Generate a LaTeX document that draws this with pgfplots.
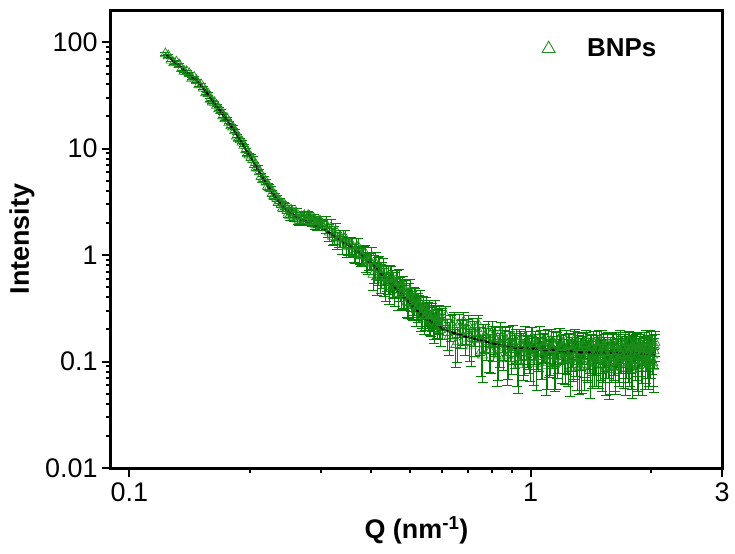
\documentclass[border=0pt]{standalone}
\usepackage{fontspec}
\setmainfont{Liberation Sans}
\usepackage{pgfplots}
\usepackage{pgfplotstable}
\pgfplotsset{compat=1.18}
\definecolor{dgreen}{RGB}{0,128,0}
\definecolor{mgreen}{RGB}{30,140,30}

\pgfplotstableread{
Q I E
0.123 77.5 2.3
0.127 67.5 2.0
0.131 64.9 1.9
0.135 56.3 1.7
0.139 52.8 1.6
0.143 45.6 1.4
0.147 43.5 1.3
0.151 39.7 1.2
0.155 33.4 1.0
0.159 28.9 0.9
0.163 27.1 0.8
0.167 23.6 0.7
0.171 20.3 0.6
0.175 19.2 0.6
0.179 16.3 0.5
0.183 14.7 0.44
0.187 12.3 0.37
0.191 11.5 0.34
0.195 9.71 0.29
0.199 8.67 0.26
0.203 7.93 0.48
0.207 6.60 0.40
0.211 6.07 0.36
0.215 5.11 0.31
0.219 4.85 0.29
0.223 4.30 0.26
0.227 3.81 0.23
0.231 3.61 0.22
0.235 3.13 0.19
0.239 3.01 0.18
0.243 2.96 0.18
0.247 2.62 0.16
0.251 2.36 0.24
0.255 2.51 0.25
0.259 2.49 0.25
0.263 2.17 0.22
0.267 2.19 0.22
0.271 2.18 0.22
0.275 2.13 0.21
0.279 2.35 0.23
0.283 2.10 0.21
0.287 2.17 0.22
0.291 1.95 0.20
0.295 2.03 0.20
0.299 2.08 0.21
0.303 1.89 0.19
0.125 74.3 2.2
0.129 63.8 1.9
0.133 61.4 1.8
0.137 53.1 1.6
0.141 50.5 1.5
0.145 46.6 1.4
0.149 39.7 1.2
0.153 36.9 1.1
0.157 32.8 1.0
0.161 27.3 0.8
0.165 25.4 0.76
0.169 22.7 0.68
0.173 19.0 0.57
0.177 17.6 0.53
0.181 15.9 0.48
0.185 13.1 0.39
0.189 12.1 0.36
0.193 10.7 0.32
0.197 8.92 0.27
0.201 8.26 0.50
0.205 7.05 0.42
0.209 6.56 0.39
0.213 5.47 0.33
0.217 5.18 0.31
0.221 4.41 0.26
0.225 4.19 0.25
0.229 3.57 0.21
0.233 3.43 0.21
0.237 3.22 0.19
0.241 2.76 0.17
0.245 2.88 0.20
0.249 2.47 0.20
0.253 2.65 0.26
0.257 2.31 0.23
0.261 2.48 0.25
0.265 2.11 0.21
0.269 2.29 0.23
0.273 2.35 0.24
0.277 2.09 0.21
0.281 2.31 0.23
0.285 2.06 0.21
0.289 2.17 0.22
0.293 1.91 0.20
0.297 2.09 0.21
0.301 1.90 0.20
0.309 1.94 0.36
0.315 1.64 0.31
0.321 1.50 0.28
0.327 1.68 0.31
0.333 1.44 0.27
0.339 1.26 0.24
0.345 1.44 0.27
0.351 1.22 0.23
0.357 1.25 0.23
0.363 1.05 0.20
0.369 1.19 0.23
0.375 1.00 0.19
0.381 0.988 0.19
0.387 1.04 0.20
0.393 0.825 0.16
0.399 0.874 0.16
0.405 0.658 0.19
0.411 0.825 0.24
0.417 0.730 0.21
0.423 0.629 0.19
0.429 0.724 0.21
0.435 0.522 0.155
0.441 0.601 0.175
0.447 0.611 0.18
0.453 0.556 0.165
0.459 0.467 0.14
0.465 0.556 0.165
0.471 0.562 0.167
0.477 0.434 0.128
0.483 0.451 0.134
0.489 0.450 0.134
0.495 0.362 0.108
0.501 0.453 0.135
0.507 0.354 0.105
0.513 0.383 0.113
0.519 0.306 0.090
0.525 0.335 0.100
0.531 0.356 0.105
0.537 0.291 0.086
0.543 0.252 0.074
0.549 0.308 0.092
0.555 0.278 0.082
0.561 0.250 0.074
0.567 0.274 0.081
0.573 0.230 0.069
0.579 0.286 0.085
0.585 0.236 0.070
0.591 0.258 0.077
0.597 0.199 0.059
0.603 0.232 0.069
0.312 1.80 0.34
0.318 1.80 0.34
0.324 1.57 0.30
0.330 1.38 0.26
0.336 1.44 0.27
0.342 1.44 0.27
0.348 1.19 0.23
0.354 1.215 0.23
0.360 1.21 0.23
0.366 1.02 0.19
0.372 1.19 0.23
0.378 0.976 0.19
0.384 1.02 0.19
0.390 0.847 0.16
0.396 0.887 0.17
0.402 0.956 0.23
0.408 0.766 0.22
0.414 0.631 0.21
0.420 0.772 0.195
0.426 0.672 0.185
0.432 0.581 0.175
0.438 0.627 0.167
0.444 0.504 0.158
0.450 0.624 0.150
0.456 0.543 0.143
0.462 0.578 0.136
0.468 0.434 0.130
0.474 0.493 0.123
0.480 0.515 0.118
0.486 0.411 0.112
0.492 0.364 0.107
0.498 0.438 0.102
0.504 0.393 0.097
0.510 0.333 0.092
0.516 0.403 0.088
0.522 0.326 0.084
0.528 0.338 0.081
0.534 0.268 0.077
0.540 0.331 0.074
0.546 0.270 0.072
0.552 0.277 0.071
0.558 0.310 0.069
0.564 0.238 0.067
0.570 0.270 0.066
0.576 0.211 0.064
0.582 0.267 0.063
0.588 0.245 0.061
0.594 0.220 0.060
0.600 0.256 0.059
0.615 0.267 0.059
0.627 0.173 0.058
0.639 0.221 0.057
0.651 0.144 0.055
0.663 0.222 0.054
0.675 0.196 0.053
0.687 0.166 0.052
0.699 0.219 0.051
0.711 0.140 0.050
0.723 0.187 0.049
0.735 0.204 0.048
0.747 0.163 0.048
0.759 0.115 0.052
0.771 0.174 0.051
0.783 0.190 0.050
0.795 0.128 0.050
0.807 0.149 0.049
0.819 0.160 0.049
0.831 0.115 0.048
0.843 0.187 0.047
0.855 0.129 0.047
0.867 0.161 0.046
0.879 0.114 0.046
0.891 0.145 0.045
0.903 0.172 0.045
0.915 0.131 0.045
0.927 0.102 0.044
0.939 0.158 0.044
0.951 0.138 0.044
0.963 0.118 0.044
0.975 0.149 0.044
0.987 0.129 0.044
0.999 0.109 0.044
1.011 0.164 0.044
1.023 0.136 0.043
1.035 0.096 0.043
1.047 0.123 0.043
1.059 0.154 0.043
1.071 0.111 0.043
1.083 0.142 0.043
1.095 0.091 0.043
1.107 0.157 0.043
1.119 0.117 0.043
1.131 0.129 0.042
1.143 0.148 0.042
1.155 0.097 0.042
1.167 0.112 0.042
1.179 0.162 0.042
1.191 0.135 0.042
1.203 0.104 0.042
1.215 0.119 0.042
1.227 0.156 0.042
1.239 0.099 0.041
1.251 0.140 0.041
1.263 0.121 0.041
1.275 0.106 0.041
1.287 0.161 0.041
1.299 0.113 0.041
1.311 0.146 0.041
1.323 0.090 0.041
1.335 0.123 0.041
1.347 0.134 0.040
1.359 0.093 0.040
1.371 0.147 0.040
1.383 0.107 0.040
1.395 0.125 0.040
1.407 0.085 0.040
1.419 0.140 0.040
1.431 0.114 0.040
1.443 0.099 0.040
1.455 0.150 0.040
1.467 0.136 0.040
1.479 0.096 0.040
1.491 0.117 0.040
1.503 0.154 0.040
1.515 0.103 0.040
1.527 0.128 0.040
1.539 0.088 0.040
1.551 0.143 0.040
1.563 0.110 0.040
1.575 0.088 0.039
1.587 0.124 0.039
1.599 0.146 0.039
1.611 0.106 0.039
1.623 0.091 0.039
1.635 0.142 0.039
1.647 0.127 0.039
1.659 0.102 0.039
1.671 0.156 0.039
1.683 0.116 0.039
1.695 0.134 0.039
1.707 0.095 0.039
1.719 0.149 0.039
1.731 0.109 0.039
1.743 0.120 0.039
1.755 0.152 0.039
1.767 0.098 0.039
1.779 0.130 0.039
1.791 0.084 0.039
1.803 0.137 0.039
1.815 0.123 0.039
1.827 0.105 0.039
1.839 0.144 0.039
1.851 0.091 0.039
1.863 0.126 0.039
1.875 0.141 0.039
1.887 0.112 0.039
1.899 0.087 0.039
1.911 0.133 0.039
1.923 0.148 0.039
1.935 0.101 0.039
1.947 0.119 0.039
1.959 0.130 0.039
1.971 0.094 0.039
1.983 0.155 0.039
1.995 0.108 0.039
2.007 0.137 0.039
2.019 0.097 0.039
2.031 0.126 0.039
2.043 0.151 0.039
0.621 0.187 0.059
0.633 0.212 0.057
0.645 0.235 0.056
0.657 0.153 0.055
0.669 0.188 0.054
0.681 0.237 0.053
0.693 0.196 0.052
0.705 0.151 0.050
0.717 0.203 0.050
0.729 0.161 0.049
0.741 0.221 0.048
0.753 0.125 0.052
0.765 0.170 0.052
0.777 0.154 0.051
0.789 0.129 0.050
0.801 0.186 0.050
0.813 0.166 0.049
0.825 0.107 0.048
0.837 0.136 0.048
0.849 0.169 0.047
0.861 0.150 0.047
0.873 0.106 0.046
0.885 0.167 0.046
0.897 0.120 0.045
0.909 0.139 0.045
0.921 0.155 0.044
0.933 0.094 0.044
0.945 0.146 0.044
0.957 0.110 0.044
0.969 0.169 0.044
0.981 0.133 0.044
0.993 0.121 0.044
1.005 0.164 0.044
1.017 0.104 0.044
1.029 0.148 0.043
1.041 0.127 0.043
1.053 0.170 0.043
1.065 0.111 0.043
1.077 0.138 0.043
1.089 0.153 0.043
1.101 0.098 0.043
1.113 0.114 0.043
1.125 0.156 0.043
1.137 0.132 0.042
1.149 0.094 0.042
1.161 0.147 0.042
1.173 0.120 0.042
1.185 0.162 0.042
1.197 0.104 0.042
1.209 0.138 0.042
1.221 0.103 0.042
1.233 0.118 0.042
1.245 0.144 0.041
1.257 0.088 0.041
1.269 0.129 0.041
1.281 0.109 0.041
1.293 0.150 0.041
1.305 0.094 0.041
1.317 0.135 0.041
1.329 0.123 0.041
1.341 0.090 0.040
1.353 0.144 0.040
1.365 0.111 0.040
1.377 0.158 0.040
1.389 0.103 0.040
1.401 0.118 0.040
1.413 0.136 0.040
1.425 0.096 0.040
1.437 0.151 0.040
1.449 0.114 0.040
1.461 0.099 0.040
1.473 0.128 0.040
1.485 0.154 0.040
1.497 0.107 0.040
1.509 0.092 0.040
1.521 0.139 0.040
1.533 0.121 0.040
1.545 0.110 0.040
1.557 0.146 0.040
1.569 0.084 0.040
1.581 0.131 0.039
1.593 0.102 0.039
1.605 0.142 0.039
1.617 0.113 0.039
1.629 0.088 0.039
1.641 0.124 0.039
1.653 0.149 0.039
1.665 0.098 0.039
1.677 0.116 0.039
1.689 0.134 0.039
1.701 0.109 0.039
1.713 0.141 0.039
1.725 0.087 0.039
1.737 0.127 0.039
1.749 0.102 0.039
1.761 0.152 0.039
1.773 0.116 0.039
1.785 0.094 0.039
1.797 0.134 0.039
1.809 0.148 0.039
1.821 0.127 0.039
1.833 0.141 0.039
1.845 0.112 0.039
1.857 0.087 0.039
1.869 0.134 0.039
1.881 0.148 0.039
1.893 0.101 0.039
1.905 0.119 0.039
1.917 0.130 0.039
1.929 0.094 0.039
1.941 0.155 0.039
1.953 0.108 0.039
1.965 0.137 0.039
1.977 0.097 0.039
1.989 0.126 0.039
2.001 0.151 0.039
2.013 0.115 0.039
2.025 0.090 0.039
2.037 0.140 0.039
}\datatable

\pgfplotstableread{
Q I
0.1236 75.4
0.1484 42.0
0.1636 26.0
0.1804 15.8
0.2000 8.41
0.2179 4.89
0.2308 3.52
0.2416 2.84
0.2544 2.44
0.2664 2.19
0.2852 1.96
0.3038 1.76
0.3218 1.545
0.3407 1.327
0.3607 1.164
0.3820 0.98
0.4045 0.805
0.4283 0.647
0.4722 0.448
0.5387 0.266
0.5750 0.228
0.6180 0.196
0.7173 0.165
0.9020 0.1355
0.9943 0.1327
1.378 0.1216
1.977 0.119
2.04 0.1188
}\fittable

\begin{document}
\begin{tikzpicture}
\begin{axis}[
  xmode=log, ymode=log,
  scale only axis, width=611bp, height=458bp,
  xmin=0.09, xmax=3, ymin=0.01, ymax=200,
  axis line style={line width=3bp, black},
  tick style={line width=2bp, black},
  tick align=outside,
  major tick length=9bp, minor tick length=5bp,
  xtick pos=left, ytick pos=left,
  xtick={0.1,1,3}, xticklabels={0.1,1,3},
  minor xtick={0.2,0.3,0.4,0.5,0.6,0.7,0.8,0.9,2},
  ytick={0.01,0.1,1,10,100}, yticklabels={0.01,0.1,1,10,100},
  minor ytick={0.02,0.03,0.04,0.05,0.06,0.07,0.08,0.09,0.2,0.3,0.4,0.5,0.6,0.7,0.8,0.9,2,3,4,5,6,7,8,9,20,30,40,50,60,70,80,90},
  tick label style={font=\fontsize{27}{32}\selectfont},
  xticklabel style={yshift=-2bp},
  yticklabel style={xshift=-1bp},
  xlabel={Q (nm\textsuperscript{-1})},
  ylabel={Intensity},
  every axis x label/.style={at={(axis description cs:0.5,-0.1354)}, anchor=center, font=\fontsize{27}{32}\selectfont\bfseries},
  every axis y label/.style={at={(axis description cs:-0.1457,0.5)}, rotate=90, anchor=center, font=\fontsize{27}{32}\selectfont\bfseries},
  legend style={draw=none, fill=none, inner sep=0pt, font=\fontsize{26}{30}\selectfont\bfseries, at={(axis description cs:0.7046,0.917)}, anchor=west},
  clip=false,
]
\addplot[color=dgreen, only marks, mark=triangle, mark size=5.8bp,
  mark options={mgreen, line width=0.7bp, fill=none},
  legend image code/.code={\draw[mgreen, line width=0.9bp] (0bp,-4.5bp) -- (13bp,-4.5bp) -- (6.5bp,6.8bp) -- cycle; \path[draw=none] (0bp,0bp) -- (43bp,0bp);},
  error bars/.cd, y dir=both, y explicit,
  error bar style={color=dgreen, line width=0.8bp},
  error mark options={rotate=90, mark size=5bp, color=dgreen, line width=0.8bp}]
  table[x=Q, y=I, y error=E] {\datatable};
\addlegendentry{BNPs}
\addplot[black, line width=2.2bp, smooth, forget plot] table[x=Q, y=I] {\fittable};
\end{axis}
\pgfresetboundingbox
\path[use as bounding box] ([shift={(-111bp,-86bp)}]current axis.south west) rectangle ([shift={(13bp,10bp)}]current axis.north east);
\end{tikzpicture}
\end{document}
